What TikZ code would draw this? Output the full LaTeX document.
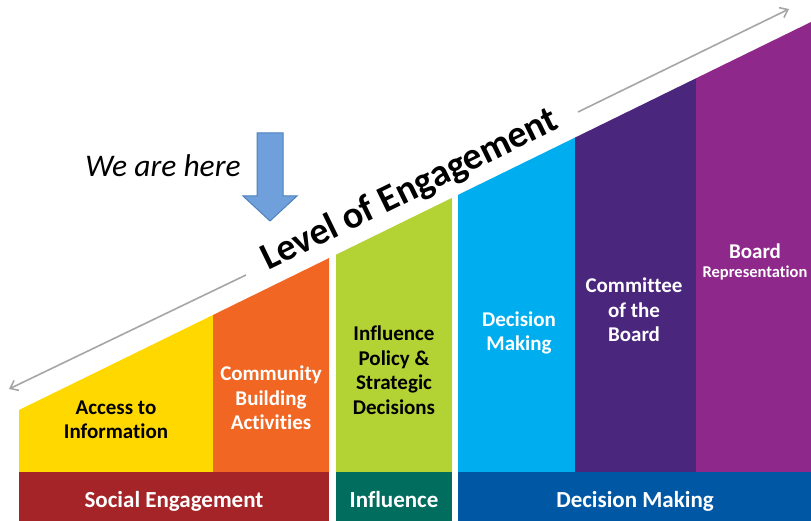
\documentclass[tikz,border=0pt]{standalone}
\usepackage{fontspec}
\setmainfont{Carlito}[Ligatures=NoCommon]
\usetikzlibrary{arrows.meta}
\definecolor{cYellow}{HTML}{FFD800}
\definecolor{cOrange}{HTML}{F16623}
\definecolor{cGreen}{HTML}{B3D234}
\definecolor{cCyan}{HTML}{00AEEF}
\definecolor{cDarkPurple}{HTML}{4A267C}
\definecolor{cPurple}{HTML}{8F288B}
\definecolor{cRed}{HTML}{A42428}
\definecolor{cTeal}{HTML}{006D5F}
\definecolor{cBlue}{HTML}{0058A4}
\definecolor{cArrowFill}{HTML}{6FA0DC}
\definecolor{cArrowLine}{HTML}{4F81BD}
\definecolor{cGray}{HTML}{A6A6A6}
\tikzset{
  collabel/.style={align=center, font=\fontsize{21}{24.5}\selectfont\bfseries, inner sep=0pt},
  barlabel/.style={anchor=base, font=\fontsize{23}{26}\selectfont\bfseries, text=white, inner sep=0pt},
  scale arrow/.style={draw=cGray, line width=1.6pt, -{Straight Barb[length=7pt,width=11pt,line width=1.6pt]}},
}
\begin{document}
\begin{tikzpicture}[x=1pt,y=-1pt]
\useasboundingbox (0,0) rectangle (811,521);
\fill[white] (0,0) rectangle (811,521);
% columns
\fill[cYellow] (19,472) -- (19,410) -- (213,315) -- (213,472) -- cycle;
\fill[cOrange] (213,472) -- (213,315) -- (329,258.1) -- (329,472) -- cycle;
\fill[cGreen] (336,472) -- (336,254.7) -- (452,197.9) -- (452,472) -- cycle;
\fill[cCyan] (458,472) -- (458,194.9) -- (575,137.6) -- (575,472) -- cycle;
\fill[cDarkPurple] (575,472) -- (575,137.6) -- (696,78.3) -- (696,472) -- cycle;
\fill[cPurple] (696,472) -- (696,78.3) -- (811,22) -- (811,472) -- cycle;
% bottom bars
\fill[cRed] (19,472) rectangle (329,521);
\fill[cTeal] (336,472) rectangle (452,521);
\fill[cBlue] (458,472) rectangle (811,521);
% scale arrow
\coordinate (la) at (246,275);
\coordinate (lb) at (9,389);
\coordinate (ra) at (578,112);
\coordinate (rb) at (789,9);
\draw[scale arrow] (la) -- (lb);
\draw[scale arrow] (ra) -- (rb);
\node[rotate=26, font=\fontsize{38}{40}\selectfont\bfseries, inner sep=0pt] (level) at (410,190) {Level of Engagement};
% we are here
\node[anchor=base, font=\fontsize{31.5}{34}\selectfont\itshape, inner sep=0pt] (here) at (163,177) {We are here};
\filldraw[fill=cArrowFill, draw=cArrowLine, line width=1pt]
  (257,133) -- (283,133) -- (283,196) -- (297,196) -- (270,221) -- (243,196) -- (257,196) -- cycle;
% column labels
\node[collabel] (access) at (116,420) {Access to\\Information};
\node[collabel, text=white] (community) at (271,398) {Community\\Building\\Activities};
\node[collabel] (policy) at (394,370) {Influence\\Policy \&\\Strategic\\Decisions};
\node[collabel, text=white] (decision) at (519,333) {Decision\\Making};
\node[collabel, text=white] (committee) at (634,310) {Committee\\of the\\Board};
\node[collabel, text=white] (board) at (755,251) {Board};
\node[inner sep=0pt, font=\fontsize{16.5}{18}\selectfont\bfseries, text=white] (repr) at (755,273) {Representation};
% bar labels
\node[barlabel] (social) at (174,507) {Social Engagement};
\node[barlabel] (influence) at (394,507) {Influence};
\node[barlabel] (dm) at (635,507) {Decision Making};
\end{tikzpicture}
\end{document}
